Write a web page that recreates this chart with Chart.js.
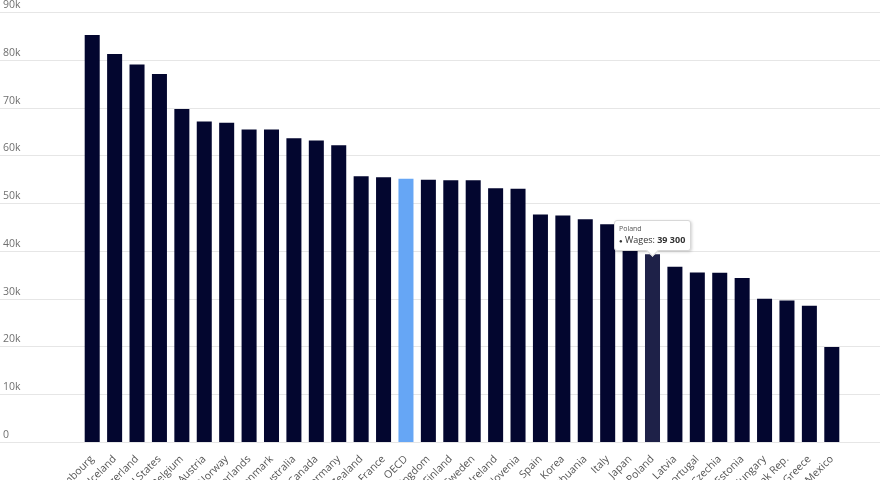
<!DOCTYPE html>
<html>
<head>
<meta charset="utf-8">
<script src="https://cdn.jsdelivr.net/npm/chart.js@4/dist/chart.umd.min.js"></script>
<style>
  body { margin: 0; background: #fff; }
  #wrap { position: relative; width: 880px; height: 480px; overflow: hidden; }
  #tip {
    position: absolute; background: #fff; border: 1px solid #d8d8d8; border-radius: 3px;
    box-shadow: 1px 1px 3px rgba(0,0,0,0.18); padding: 3px 5px 3px 4px;
    font-family: "Open Sans", sans-serif; color: #333; white-space: nowrap; display: none;
  }
  #tip .t { font-size: 7px; color: #555; line-height: 10px; }
  #tip .b { font-size: 9px; line-height: 12px; }
  #tip:after {
    content: ""; position: absolute; left: 50%; bottom: -5px; margin-left: -5px;
    width: 8px; height: 8px; background: #fff; transform: rotate(45deg);
    border-right: 1px solid #d8d8d8; border-bottom: 1px solid #d8d8d8;
  }
</style>
</head>
<body>
<div id="wrap">
  <canvas id="myChart"></canvas>
  <div id="tip"></div>
</div>
<script>
// ---------------- data ---------------- //
var countries = ["Luxembourg","Iceland","Switzerland","United States","Belgium","Austria","Norway",
"Netherlands","Denmark","Australia","Canada","Germany","New Zealand","France","OECD","United Kingdom",
"Finland","Sweden","Ireland","Slovenia","Spain","Korea","Lithuania","Italy","Japan","Poland","Latvia",
"Portugal","Czechia","Estonia","Hungary","Slovak Rep.","Greece","Mexico"];

var wages = [85200, 81200, 79000, 77000, 69700, 67100, 66800, 65400, 65400, 63600, 63100, 62100,
55600, 55400, 55100, 54900, 54800, 54800, 53100, 53000, 47600, 47400, 46600, 45600, 41500, 39300,
36700, 35500, 35400, 34300, 30000, 29600, 28500, 19900];

var yTicks = [0, 10000, 20000, 30000, 40000, 50000, 60000, 70000, 80000, 90000];
var yTickLabels = ["0", "10k", "20k", "30k", "40k", "50k", "60k", "70k", "80k", "90k"];

var highlighted = "OECD";
var hovered = "Poland";

var barColors = countries.map(function(c){ return c == highlighted ? "#66a6f5" : "#03062f"; });

function spaced(n){ // 39300 -> "39 300"
  return String(n).replace(/\B(?=(\d{3})+(?!\d))/g, " ");
}

// gridlines across the whole width, labels sitting above each line
var gridPlugin = {
  id: "fullGrid",
  beforeDatasetsDraw: function(chart){
    var ctx = chart.ctx;
    var y = chart.scales.y;
    ctx.save();
    ctx.font = "10.5px 'Open Sans'";
    ctx.fillStyle = "#707070";
    ctx.textBaseline = "bottom";
    for (var i = 0; i < yTicks.length; i++){
      var py = Math.round(y.getPixelForValue(yTicks[i])) + 0.5;
      ctx.strokeStyle = "#e6e6e6";
      ctx.lineWidth = 1;
      ctx.beginPath();
      ctx.moveTo(0, py);
      ctx.lineTo(chart.width, py);
      ctx.stroke();
      ctx.fillText(yTickLabels[i], 3, py - 2);
    }
    ctx.restore();
  }
};

function externalTip(context){
  var tip = document.getElementById("tip");
  var model = context.tooltip;
  if (model.opacity === 0 || !model.dataPoints || !model.dataPoints.length){
    tip.style.display = "none";
    return;
  }
  var dp = model.dataPoints[0];
  tip.innerHTML = '<div class="t">' + dp.label + '</div>' +
    '<div class="b"><span style="font-size:6px">&#9679;</span> Wages: <b>' + spaced(dp.raw) + '</b></div>';
  tip.style.display = "block";
  var w = tip.offsetWidth, h = tip.offsetHeight;
  tip.style.left = (model.caretX - w / 2) + "px";
  tip.style.top = (model.caretY - h - 3) + "px";
}

var chartDiv = document.getElementById("myChart").getContext("2d");
var chart = new Chart(chartDiv, {
  type: "bar",
  data: {
    labels: countries,
    datasets: [{
      label: "Wages",
      data: wages,
      backgroundColor: barColors,
      hoverBackgroundColor: countries.map(function(c, i){ return c == hovered ? "#1e2148" : barColors[i]; }),
      borderWidth: 0,
      categoryPercentage: 1,
      barPercentage: 0.67
    }]
  },
  options: {
    responsive: true,
    maintainAspectRatio: false,
    animation: false,
    events: [],
    layout: { padding: { left: 81, right: 37, top: 12, bottom: 0 } },
    plugins: {
      legend: { display: false },
      tooltip: { enabled: false, external: externalTip, position: "nearest" }
    },
    scales: {
      y: {
        display: false,
        min: 0,
        max: 90000,
        ticks: { stepSize: 10000 }
      },
      x: {
        grid: { display: false, drawTicks: false },
        border: { display: false },
        ticks: {
          minRotation: 45,
          maxRotation: 45,
          autoSkip: false,
          padding: 11,
          color: "#555",
          font: { family: "'Open Sans'", size: 10.5 }
        },
        afterFit: function(scale){ scale.height = 38; }
      }
    }
  },
  plugins: [gridPlugin]
});

var idx = countries.indexOf(hovered);
var el = chart.getDatasetMeta(0).data[idx];
chart.setActiveElements([{ datasetIndex: 0, index: idx }]);
chart.tooltip.setActiveElements([{ datasetIndex: 0, index: idx }], { x: el.x, y: el.y });
chart.update();
</script>
</body>
</html>
